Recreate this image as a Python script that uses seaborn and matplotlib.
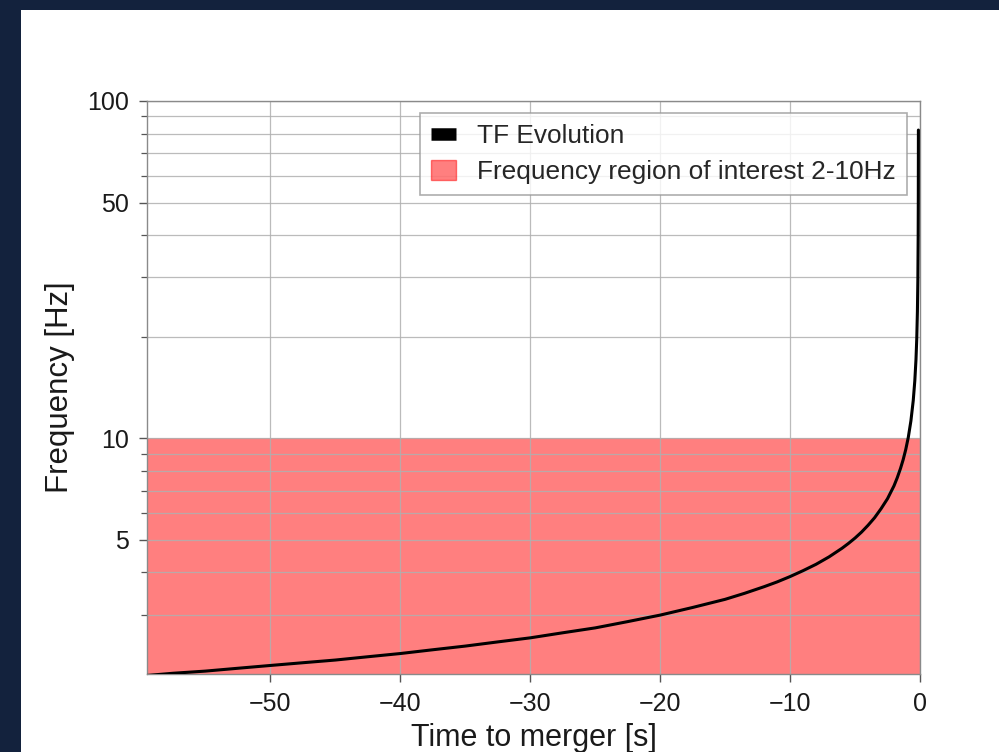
import matplotlib
matplotlib.use("Agg")
import matplotlib.pyplot as plt
from matplotlib.patches import Patch, Rectangle
from matplotlib.lines import Line2D
from matplotlib.ticker import FixedLocator, FixedFormatter, NullFormatter
import seaborn as sns
import pandas as pd

# Time-frequency track of the inspiral (seconds before merger, Hz)
time_s = [-59.5, -57.5, -55, -52.5, -50, -47.5, -45, -42.5, -40, -37.5, -35, -32.5, -30,
          -27.5, -25, -22.5, -20, -17.5, -15, -13.5, -12, -11, -10, -9, -8, -7, -6, -5.5,
          -5, -4.5, -4, -3.5, -3, -2.5, -2, -1.75, -1.5, -1.3, -1.1, -0.9, -0.7, -0.52,
          -0.4, -0.31, -0.25, -0.2, -0.165, -0.14, -0.13, -0.125, -0.123]
freq_hz = [1.98, 2.01, 2.04, 2.08, 2.12, 2.16, 2.20, 2.25, 2.30, 2.36, 2.42, 2.49, 2.56,
           2.65, 2.74, 2.86, 2.99, 3.15, 3.33, 3.47, 3.63, 3.75, 3.89, 4.05, 4.23, 4.45,
           4.72, 4.88, 5.06, 5.27, 5.52, 5.81, 6.18, 6.62, 7.23, 7.64, 8.14, 8.63, 9.25,
           10.07, 11.26, 12.94, 14.8, 17.1, 19.7, 23.7, 29.4, 39.8, 51.6, 67, 82]

band_low, band_high = 2, 10
x_ticks = [-50, -40, -30, -20, -10, 0]
y_major = [5, 10, 50, 100]
y_minor = [3, 4, 6, 7, 8, 9, 20, 30, 40, 60, 70, 80, 90]
y_labels = ["5", "10", "50", "100"]

sns.set_style("ticks")
plt.rcParams["font.family"] = ["Liberation Sans", "DejaVu Sans"]

fig = plt.figure(figsize=(9.99, 7.52), dpi=100, facecolor="#13223d")
fig.patches.append(Rectangle((21 / 999, 0), 1, 1 - 10 / 752, transform=fig.transFigure,
                             facecolor="white", edgecolor="none", zorder=-10))
ax = fig.add_axes([147 / 999, 1 - 674 / 752, 773 / 999, 573 / 752])
ax.set_facecolor("white")

df = pd.DataFrame({"t": time_s, "f": freq_hz})
ax.axhspan(band_low, band_high, color="red", alpha=0.5, lw=0, zorder=1)
sns.lineplot(data=df, x="t", y="f", ax=ax, color="black", lw=2.2, sort=False,
             estimator=None, zorder=3)

ax.set_yscale("log")
ax.set_xlim(-59.5, 0)
ax.set_ylim(2, 100)
ax.set_xticks(x_ticks)
ax.yaxis.set_major_locator(FixedLocator(y_major))
ax.yaxis.set_major_formatter(FixedFormatter(y_labels))
ax.yaxis.set_minor_locator(FixedLocator(y_minor))
ax.yaxis.set_minor_formatter(NullFormatter())

ax.set_axisbelow("line")
ax.grid(True, which="major", color="#b0b0b0", lw=0.9, alpha=0.85)
ax.grid(True, which="minor", axis="y", color="#b0b0b0", lw=0.9, alpha=0.85)

for s in ax.spines.values():
    s.set_visible(True)
    s.set_color("#8a8a8a")
    s.set_linewidth(1.0)
ax.tick_params(which="major", length=6, width=1.0, color="#555555", labelsize=18,
               labelcolor="#1a1a1a", pad=7)
ax.tick_params(which="minor", length=4, width=0.9, color="#555555")

ax.set_xlabel("Time to merger [s]", fontsize=22, color="#1a1a1a", labelpad=5)
ax.set_ylabel("Frequency [Hz]", fontsize=22.5, color="#1a1a1a", labelpad=9)

handles = [Line2D([], [], color="black", lw=9, solid_capstyle="butt", label="TF Evolution"),
           Patch(facecolor="red", edgecolor="red", alpha=0.5,
                 label="Frequency region of interest 2-10Hz")]
leg = ax.legend(handles=handles, loc="upper right", bbox_to_anchor=(0.983, 0.979),
                borderaxespad=0, fontsize=18.9, fancybox=False, framealpha=0.8,
                edgecolor="#999999", handlelength=0.95, handleheight=0.8,
                handletextpad=0.8, labelspacing=0.45, borderpad=0.42)
leg.get_frame().set_linewidth(1.2)

fig.savefig("out.png", dpi=100, facecolor=fig.get_facecolor())
